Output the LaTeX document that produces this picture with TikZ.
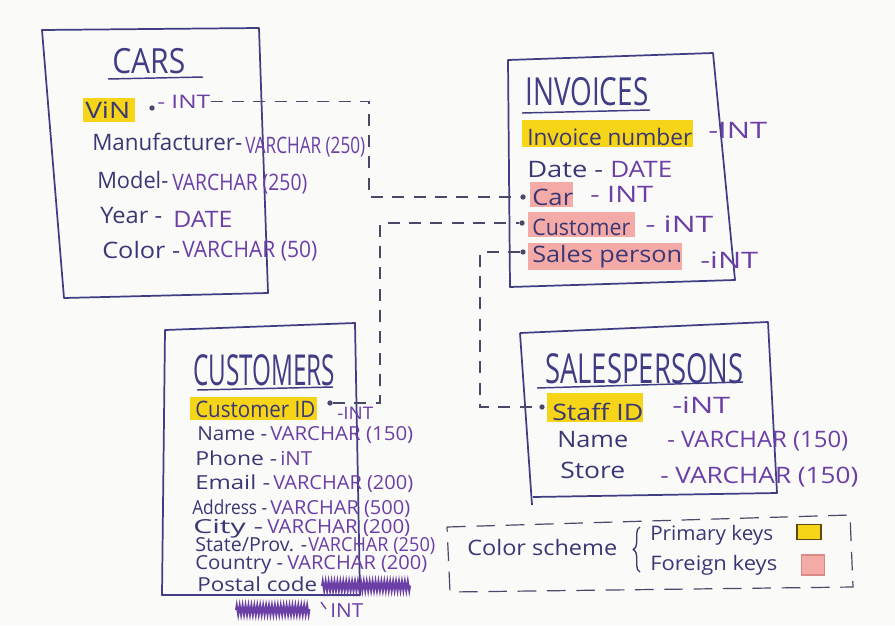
\documentclass[tikz,border=0pt]{standalone}
\usepackage{fontspec}
\setmainfont{Open Sans}
\usetikzlibrary{decorations.pathreplacing,decorations.pathmorphing}
\newdimen\mypx \mypx=0.75pt
\newcommand\fw[2]{\resizebox{#1\mypx}{\height}{#2}}
\definecolor{ink}{HTML}{403D85}
\definecolor{nm}{HTML}{3A3775}
\definecolor{ty}{HTML}{6B3FA6}
\definecolor{hly}{HTML}{F6D417}
\definecolor{hlp}{HTML}{F4AAA6}
\definecolor{dashc}{HTML}{4A4868}
\definecolor{paper}{HTML}{FAFAF8}
\definecolor{pkb}{HTML}{5A4A10}
\definecolor{fkb}{HTML}{D98A86}
\tikzset{
  tbl/.style={draw=ink, line width=1.3pt, line join=round},
  ttl/.style={text=ink, inner sep=0pt, anchor=base west},
  fn/.style={text=nm, inner sep=0pt, anchor=base west, font=\fontsize{17}{19}\selectfont},
  ft/.style={text=ty, inner sep=0pt, anchor=base west, font=\fontsize{17}{19}\selectfont},
  sm/.style={font=\fontsize{14.5}{16}\selectfont},
  uline/.style={draw=ink, line width=1.1pt},
  conn/.style={draw=dashc, line width=0.9pt, dash pattern=on 9pt off 7pt},
  legendbox/.style={draw=dashc, line width=0.9pt, dash pattern=on 14pt off 8pt},
  keydot/.style={circle, fill=dashc, inner sep=0pt, minimum size=4pt},
  keysq/.style={rectangle, inner sep=0pt, line width=1pt},
  scrib/.style={draw=ty, line width=1.5pt, decorate, decoration={zigzag, segment length=2.2pt, amplitude=3.5pt}}
}
\begin{document}
\begin{tikzpicture}[x=0.75pt,y=-0.75pt]
\fill[paper] (0,0) rectangle (895,625);
\useasboundingbox (0,0) rectangle (895,625);

% ---------- CARS ----------
\draw[tbl] (42,30) -- (259,28) -- (268,293) -- (64,298) -- cycle;
\node[ttl, font=\fontsize{26}{28}\selectfont] (carsT) at (112,73) {\fw{73}{CARS}};
\draw[uline] (108,79) -- (203,77);
\fill[hly] (83,98) rectangle (135,122);
\node[fn] (vin) at (85,118) {\fw{45}{ViN}};
\node[keydot] (vindot) at (152,108) {};
\node[ft, font=\fontsize{14}{16}\selectfont] (vint) at (157,108) {\fw{53}{- INT}};
\node[fn] (manu) at (92,150) {\fw{150}{Manufacturer-}};
\node[ft] (manut) at (245,153) {\fw{120}{VARCHAR (250)}};
\node[fn] (model) at (97,188) {\fw{71}{Model-}};
\node[ft] (modelt) at (172,190) {\fw{135}{VARCHAR (250)}};
\node[fn] (year) at (100,223) {\fw{62}{Year -}};
\node[ft] (yeart) at (173,227) {\fw{59}{DATE}};
\node[fn] (color) at (102,258) {\fw{78}{Color -}};
\node[ft] (colort) at (182,257) {\fw{135}{VARCHAR (50)}};

% ---------- INVOICES ----------
\draw[tbl] (508,60) -- (713,53) -- (735,280) -- (510,287) -- cycle;
\node[ttl, font=\fontsize{29}{31}\selectfont] (invT) at (525,105) {\fw{123}{INVOICES}};
\draw[uline] (522,113) -- (650,110);
\fill[hly] (522,120) rectangle (693,147);
\node[fn] (invno) at (527,145) {\fw{165}{Invoice number}};
\node[ft] (invnot) at (708,138) {\fw{59}{-INT}};
\node[fn] (date) at (527,177) {\fw{76}{Date -}};
\node[ft] (datet) at (610,177) {\fw{62}{DATE}};
\fill[hlp] (530,182) rectangle (573,207);
\node[fn] (car) at (532,205) {\fw{41}{Car}};
\node[ft] (cart) at (590,202) {\fw{63}{- INT}};
\fill[hlp] (528,212) rectangle (635,237);
\node[fn] (cust) at (532,235) {\fw{98}{Customer}};
\node[ft] (custt) at (645,232) {\fw{68}{- iNT}};
\fill[hlp] (528,243) rectangle (682,270);
\node[fn] (sales) at (532,262) {\fw{150}{Sales person}};
\node[ft] (salest) at (700,268) {\fw{58}{-iNT}};
\node[keydot] (cardot) at (523,197) {};
\node[keydot] (custdot) at (522,223) {};
\node[keydot] (salesdot) at (523,252) {};

% ---------- CUSTOMERS ----------
\draw[tbl] (165,330) -- (355,323) -- (360,595) -- (162,595) -- cycle;
\node[ttl, font=\fontsize{32}{34}\selectfont] (custT) at (193,385) {\fw{142}{CUSTOMERS}};
\draw[uline] (197,390) -- (333,387);
\fill[hly] (190,397) rectangle (317,420);
\node[fn] (custid) at (195,417) {\fw{120}{Customer ID}};
\node[keydot] (custiddot) at (330,403) {};
\node[ft, font=\fontsize{13}{15}\selectfont] (custidt) at (337,419) {\fw{36}{-INT}};
\node[fn, sm] (cname) at (197,440) {\fw{70}{Name -}};
\node[ft, sm] (cnamet) at (270,440) {\fw{143}{VARCHAR (150)}};
\node[fn, sm] (phone) at (195,465) {\fw{82}{Phone -}};
\node[ft, sm] (phonet) at (280,465) {\fw{32}{iNT}};
\node[fn, sm] (email) at (195,489) {\fw{75}{Email -}};
\node[ft, sm] (emailt) at (273,489) {\fw{140}{VARCHAR (200)}};
\node[fn, sm] (addr) at (192,514) {\fw{75}{Address -}};
\node[ft, sm] (addrt) at (270,514) {\fw{140}{VARCHAR (500)}};
\node[fn, sm] (city) at (193,533) {\fw{70}{City -}};
\node[ft, sm] (cityt) at (267,533) {\fw{143}{VARCHAR (200)}};
\node[fn, sm] (state) at (195,551) {\fw{112}{State/Prov. -}};
\node[ft, sm] (statet) at (308,551) {\fw{127}{VARCHAR (250)}};
\node[fn, sm] (country) at (195,569) {\fw{88}{Country -}};
\node[ft, sm] (countryt) at (287,569) {\fw{140}{VARCHAR (200)}};
\node[fn, sm] (postal) at (197,591) {\fw{120}{Postal code}};
\draw[scrib] (322,586) -- (410,586);
\draw[scrib] (236,610) -- (310,610);
\node[ft, sm] (postt) at (330,617) {\fw{33}{INT}};
\draw[ty, line width=1pt] (321,602) -- (326,609);

% ---------- SALESPERSONS ----------
\draw[tbl] (520,333) -- (768,322) -- (777,493) -- (533,497);
\draw[tbl] (520,333) -- (532,505);
\node[ttl, font=\fontsize{31}{33}\selectfont] (spT) at (545,383) {\fw{198}{SALESPERSONS}};
\draw[uline] (537,388) -- (743,382);
\fill[hly] (547,393) rectangle (643,422);
\node[fn] (staff) at (552,420) {\fw{91}{Staff ID}};
\node[keydot] (staffdot) at (542,407) {};
\node[ft] (stafft) at (672,413) {\fw{58}{-iNT}};
\node[fn] (spname) at (557,447) {\fw{71}{Name}};
\node[ft] (spnamet) at (667,447) {\fw{181}{- VARCHAR (150)}};
\node[fn] (store) at (560,478) {\fw{65}{Store}};
\node[ft] (storet) at (660,483) {\fw{198}{- VARCHAR (150)}};

% ---------- Legend ----------
\draw[legendbox] (447,527) -- (850,515) -- (853,587) -- (450,592) -- cycle;
\node[fn, font=\fontsize{16}{18}\selectfont] (cs) at (467,555) {\fw{150}{Color scheme}};
\draw[nm, line width=1pt, decorate, decoration={brace, amplitude=5pt}] (640,572) -- (640,527);
\node[fn, font=\fontsize{15}{17}\selectfont] (pk) at (650,540) {\fw{123}{Primary keys}};
\node[fn, font=\fontsize{15}{17}\selectfont] (fk) at (650,570) {\fw{127}{Foreign keys}};
\node[keysq, draw=pkb, fill=hly, minimum width=18pt, minimum height=11pt] (pkbox) at (809,532) {};
\node[keysq, draw=fkb, fill=hlp, minimum width=17pt, minimum height=15pt] (fkbox) at (813,565) {};

% ---------- Connectors ----------
\coordinate (c1) at (369,150);
\coordinate (c2) at (380,300);
\coordinate (c3) at (480,330);
\draw[conn] (vint.east) -| (c1) |- (cardot);
\draw[conn] (custiddot) -| (c2) |- (custdot);
\draw[conn] (salesdot) -| (c3) |- (staffdot);
\end{tikzpicture}
\end{document}
